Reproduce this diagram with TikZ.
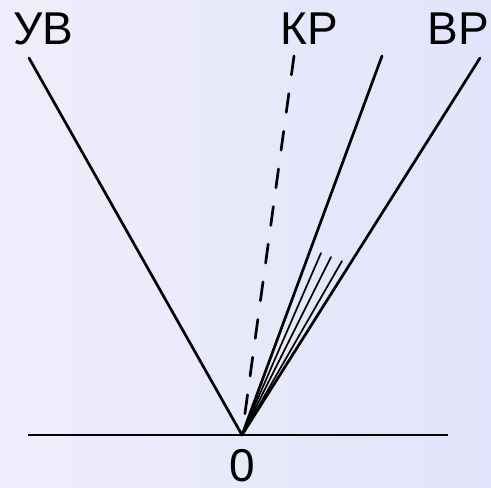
\documentclass[tikz,border=0pt]{standalone}
\usepackage{fontspec}
\setmainfont{Liberation Sans}
\usetikzlibrary{calc}
\definecolor{bgleft}{RGB}{238,238,252}
\definecolor{bgright}{RGB}{227,227,251}

\begin{document}
\begin{tikzpicture}[x=1pt,y=-1pt,line cap=round,
    ray/.style={line width=2.7pt},
    fan/.style={line width=1.7pt},
    lbl/.style={font=\fontsize{46}{50}\selectfont,inner sep=0pt}]
  \shade[left color=bgleft,right color=bgright] (0,0) rectangle (491,488);
  \useasboundingbox (0,0) rectangle (491,488);
  \coordinate (O) at (242,435);
  \coordinate (L) at (28,435); \coordinate (R) at (448,435);
  \coordinate (UV) at (29,58); \coordinate (KR) at (294,56);
  \coordinate (M) at (382,56); \coordinate (VR) at (480,58);
  \draw[ray,line cap=butt] (L)--(R);
  \draw[ray] (UV)--(O) (M)--(O) (VR)--(O);
  \draw[ray,dash pattern=on 19pt off 19pt] (KR)--(O);
  \foreach \p in {(321,253),(331,257),(342,261)}\draw[fan] (O)--\p;
  \node[lbl] (uvl) at (43,29) {УВ};
  \node[lbl] (krl) at (309,29) {КР};
  \node[lbl] (vrl) at (458,29) {ВР};
  \node[lbl] (zl) at (242,466) {0};
\end{tikzpicture}
\end{document}
